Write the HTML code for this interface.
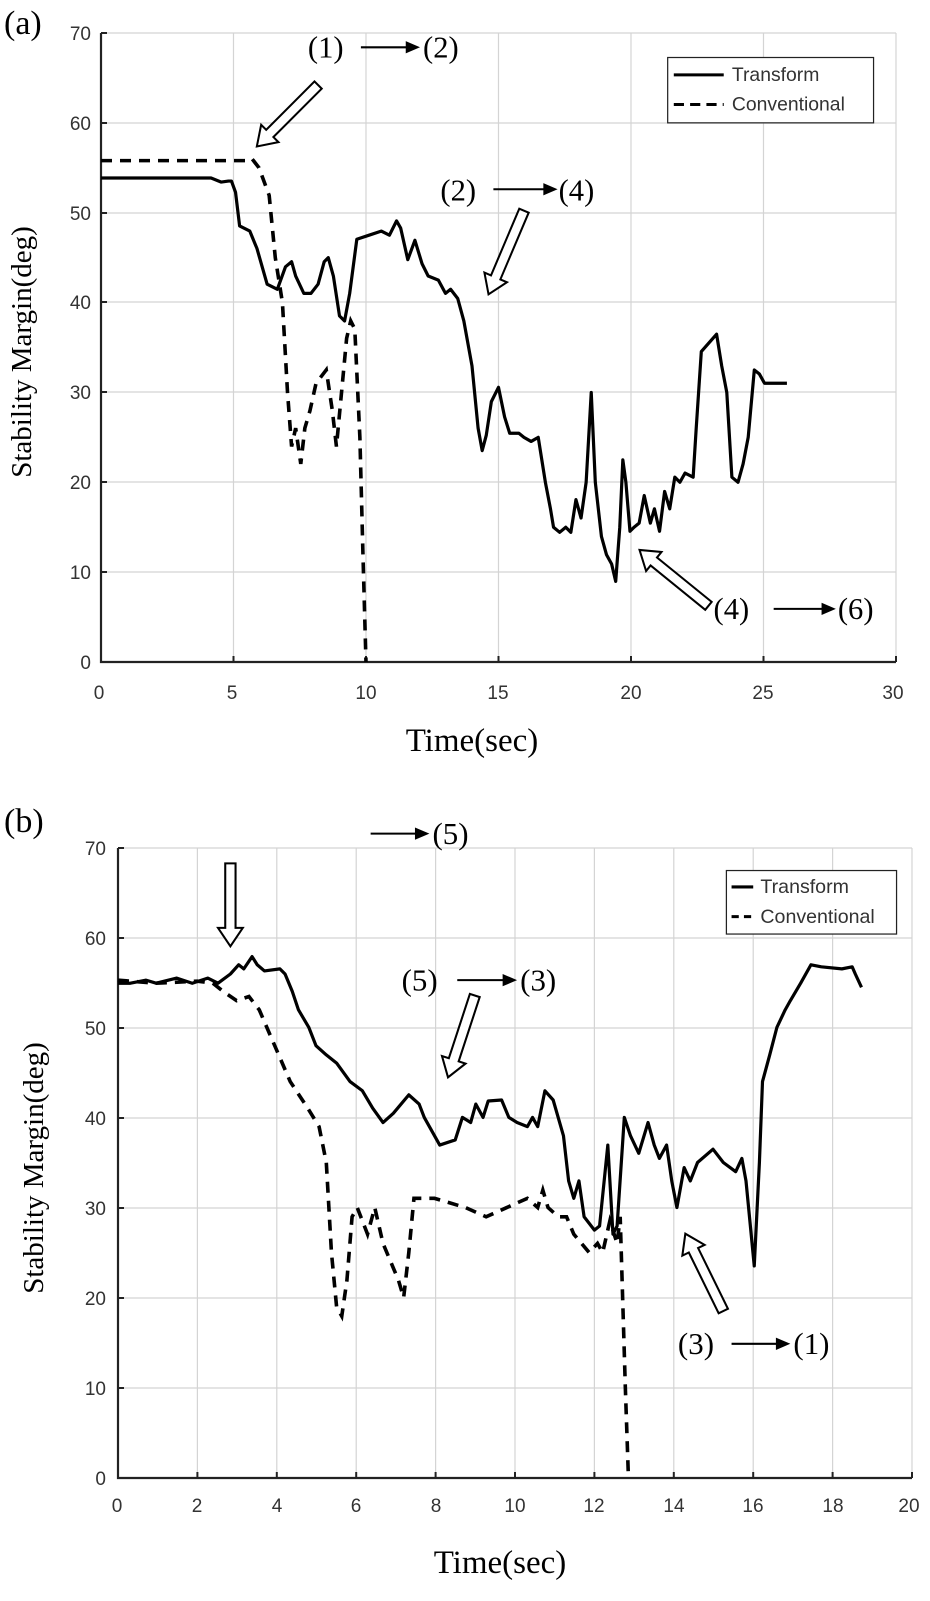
<!DOCTYPE html>
<html><head><meta charset="utf-8"><style>
html,body{margin:0;padding:0;background:#fff}
svg{display:block}
.tk{font-family:"Liberation Sans",sans-serif;font-size:19px;fill:#333}
.sr{font-family:"Liberation Serif",serif;fill:#000}
.g{stroke:#d4d4d4;stroke-width:1.2}
.s{fill:none;stroke:#000;stroke-width:3.2;stroke-linejoin:round;vector-effect:non-scaling-stroke}
.d{fill:none;stroke:#000;stroke-width:3.6;stroke-dasharray:11 8;vector-effect:non-scaling-stroke}
.ha{fill:#fff;stroke:#000;stroke-width:2}
</style></head><body>
<svg width="930" height="1601" viewBox="0 0 930 1601" xmlns="http://www.w3.org/2000/svg">
<!-- ===== (a) ===== -->
<text class="sr" x="4" y="34" font-size="34">(a)</text>
<g>
<line class="g" x1="101" y1="33" x2="896" y2="33"/>
<line class="g" x1="101" y1="123" x2="896" y2="123"/>
<line class="g" x1="101" y1="213" x2="896" y2="213"/>
<line class="g" x1="101" y1="302" x2="896" y2="302"/>
<line class="g" x1="101" y1="392" x2="896" y2="392"/>
<line class="g" x1="101" y1="482" x2="896" y2="482"/>
<line class="g" x1="101" y1="572" x2="896" y2="572"/>
<line class="g" x1="233.5" y1="33" x2="233.5" y2="662"/>
<line class="g" x1="366" y1="33" x2="366" y2="662"/>
<line class="g" x1="498.5" y1="33" x2="498.5" y2="662"/>
<line class="g" x1="631" y1="33" x2="631" y2="662"/>
<line class="g" x1="763.5" y1="33" x2="763.5" y2="662"/>
<line class="g" x1="896" y1="33" x2="896" y2="662"/>
<path d="M101,33V662H896" fill="none" stroke="#222" stroke-width="2.2"/>
<path d="M101,33h6M101,123h6M101,213h6M101,302h6M101,392h6M101,482h6M101,572h6M233.5,662v-6M366,662v-6M498.5,662v-6M631,662v-6M763.5,662v-6M896,662v-6" stroke="#222" stroke-width="2"/>
<g class="tk" text-anchor="end">
<text x="91" y="40">70</text><text x="91" y="130">60</text><text x="91" y="220">50</text><text x="91" y="309">40</text><text x="91" y="399">30</text><text x="91" y="489">20</text><text x="91" y="579">10</text><text x="91" y="669">0</text>
</g>
<g class="tk" text-anchor="middle">
<text x="99" y="699">0</text><text x="232" y="699">5</text><text x="366" y="699">10</text><text x="498" y="699">15</text><text x="631" y="699">20</text><text x="763" y="699">25</text><text x="893" y="699">30</text>
</g>
<text class="sr" x="472" y="751" font-size="33" text-anchor="middle">Time(sec)</text>
<text class="sr" font-size="29" text-anchor="middle" transform="translate(31,352) rotate(-90)">Stability  Margin(deg)</text>
<g transform="matrix(1.0192 0 0 1.0211 2.14 -1.72)">
<polyline class="s" points="97,176 205,176 215,180 222,179 225,179 229,190 233,223 243,228 250,245 260,280 270,285 278,263 284,258 288,272 296,289 303,289 310,280 316,258 320,254 325,272 331,311 336,316 341,289 348,236 360,232 372,228 380,232 387,218 391,225 398,256 405,237 412,260 418,272 428,276 435,289 440,285 447,294 453,316 461,360 467,421 471,443 475,428 480,395 487,381 493,410 498,426 507,426 512,430 519,434 526,430 533,474 538,500 541,518 547,523 553,518 558,523 563,491 568,509 573,474 578,386 582,474 588,527 593,545 598,554 602,571 606,518 609,452 612,474 616,522 620,518 625,514 630,487 636,514 640,500 645,522 650,483 655,500 660,469 665,474 670,465 678,469 681,421 686,346 693,338 701,329 706,360 711,386 716,469 722,474 727,456 732,430 738,364 743,368 748,377 770,377"/>
<polyline class="d" points="97,159 240,159 245,157 252,166 262,193 268,254 275,298 280,386 284,439 288,421 293,456 297,421 302,404 308,377 318,364 324,404 328,439 333,386 338,333 342,316 346,324 351,430 354,544 357,650"/>
<rect x="653" y="58" width="202" height="64" fill="#fff" stroke="#222" stroke-width="1.2"/>
<line x1="659" y1="75" x2="708" y2="75" stroke="#000" stroke-width="3"/>
<line x1="659" y1="104" x2="708" y2="104" stroke="#000" stroke-width="3" stroke-dasharray="10 6"/>
<text x="716" y="81" class="tk" font-size="17" fill="#000">Transform</text>
<text x="716" y="110" class="tk" font-size="17" fill="#000">Conventional</text>
<g class="sr" font-size="30">
<text x="300" y="58">(1)</text><text x="413" y="58">(2)</text>
<text x="430" y="198">(2)</text><text x="546" y="198">(4)</text>
<text x="698" y="608">(4)</text><text x="820" y="608">(6)</text>
</g>
<path d="M352,48H398" stroke="#000" stroke-width="2"/><path d="M396,42L410,48L396,54Z"/>
<path d="M482,187H533" stroke="#000" stroke-width="2"/><path d="M531,181L545,187L531,193Z"/>
<path d="M757,598H806" stroke="#000" stroke-width="2"/><path d="M804,592L818,598L804,604Z"/>
<polygon class="ha" transform="translate(310,85) rotate(135)" points="0,-5 67,-5 67,-12 85,0 67,12 67,5 0,5"/>
<polygon class="ha" transform="translate(512,208) rotate(113)" points="0,-5 71,-5 71,-12 89,0 71,12 71,5 0,5"/>
<polygon class="ha" transform="translate(693,595) rotate(-141)" points="0,-5 69,-5 69,-12 87,0 69,12 69,5 0,5"/>
</g>
</g>
<!-- ===== (b) ===== -->
<text class="sr" x="4" y="832" font-size="34">(b)</text>
<g>
<line class="g" x1="118" y1="848" x2="912" y2="848"/>
<line class="g" x1="118" y1="938" x2="912" y2="938"/>
<line class="g" x1="118" y1="1028" x2="912" y2="1028"/>
<line class="g" x1="118" y1="1118" x2="912" y2="1118"/>
<line class="g" x1="118" y1="1208" x2="912" y2="1208"/>
<line class="g" x1="118" y1="1298" x2="912" y2="1298"/>
<line class="g" x1="118" y1="1388" x2="912" y2="1388"/>
<line class="g" x1="197.4" y1="848" x2="197.4" y2="1478"/>
<line class="g" x1="276.8" y1="848" x2="276.8" y2="1478"/>
<line class="g" x1="356.2" y1="848" x2="356.2" y2="1478"/>
<line class="g" x1="435.6" y1="848" x2="435.6" y2="1478"/>
<line class="g" x1="515" y1="848" x2="515" y2="1478"/>
<line class="g" x1="594.4" y1="848" x2="594.4" y2="1478"/>
<line class="g" x1="673.8" y1="848" x2="673.8" y2="1478"/>
<line class="g" x1="753.2" y1="848" x2="753.2" y2="1478"/>
<line class="g" x1="832.6" y1="848" x2="832.6" y2="1478"/>
<line class="g" x1="912" y1="848" x2="912" y2="1478"/>
<path d="M118,848V1478H912" fill="none" stroke="#222" stroke-width="2.2"/>
<path d="M118,848h6M118,938h6M118,1028h6M118,1118h6M118,1208h6M118,1298h6M118,1388h6M197.4,1478v-6M276.8,1478v-6M356.2,1478v-6M435.6,1478v-6M515,1478v-6M594.4,1478v-6M673.8,1478v-6M753.2,1478v-6M832.6,1478v-6M912,1478v-6" stroke="#222" stroke-width="2"/>
<g class="tk" text-anchor="end">
<text x="106" y="855">70</text><text x="106" y="945">60</text><text x="106" y="1035">50</text><text x="106" y="1125">40</text><text x="106" y="1215">30</text><text x="106" y="1305">20</text><text x="106" y="1395">10</text><text x="106" y="1485">0</text>
</g>
<g class="tk" text-anchor="middle">
<text x="117" y="1512">0</text><text x="197" y="1512">2</text><text x="277" y="1512">4</text><text x="356" y="1512">6</text><text x="436" y="1512">8</text><text x="515" y="1512">10</text><text x="594" y="1512">12</text><text x="674" y="1512">14</text><text x="753" y="1512">16</text><text x="833" y="1512">18</text><text x="909" y="1512">20</text>
</g>
<text class="sr" x="500" y="1573" font-size="33" text-anchor="middle">Time(sec)</text>
<text class="sr" font-size="29" text-anchor="middle" transform="translate(43,1168) rotate(-90)">Stability  Margin(deg)</text>
<g transform="matrix(1.0312 0 0 1.0244 1.47 -3.28)">
<polyline class="s" points="113,963 125,963 140,960 150,963 170,958 185,963 200,958 210,963 222,954 230,945 235,949 243,937 248,945 255,951 270,949 275,954 282,971 288,989 298,1006 305,1024 315,1033 325,1041 338,1059 350,1068 360,1085 370,1099 380,1090 395,1072 405,1081 410,1094 425,1121 440,1116 447,1094 455,1099 460,1081 467,1094 472,1078 485,1077 492,1094 500,1099 510,1103 515,1094 520,1103 527,1068 535,1077 545,1112 550,1156 555,1173 560,1156 565,1191 575,1204 580,1200 588,1121 593,1208 597,1200 604,1094 610,1112 618,1129 627,1099 633,1121 638,1134 645,1121 650,1156 655,1182 662,1143 668,1156 675,1138 690,1125 700,1138 712,1147 718,1134 722,1156 730,1239 735,1138 738,1059 745,1033 752,1006 760,989 765,980 775,963 785,945 795,947 815,949 825,947 828,954 834,967"/>
<polyline class="d" points="113,960 150,963 190,961 205,963 215,971 228,980 240,976 250,989 265,1024 280,1059 297,1085 308,1103 315,1138 320,1226 325,1279 330,1288 335,1253 340,1191 345,1182 355,1208 362,1182 370,1217 385,1253 390,1270 395,1226 400,1173 420,1173 450,1182 470,1191 490,1182 510,1173 520,1182 525,1165 530,1182 540,1191 548,1191 555,1208 570,1226 578,1217 583,1226 590,1195 597,1217 600,1191 605,1358 608,1446"/>
<rect x="703" y="853" width="165" height="62" fill="#fff" stroke="#222" stroke-width="1.2"/>
<line x1="708" y1="869" x2="729" y2="869" stroke="#000" stroke-width="3"/>
<line x1="708" y1="898" x2="729" y2="898" stroke="#000" stroke-width="3" stroke-dasharray="7 5"/>
<text x="736" y="875" class="tk" font-size="17" fill="#000">Transform</text>
<text x="736" y="904" class="tk" font-size="17" fill="#000">Conventional</text>
<g class="sr" font-size="30">
<text x="418" y="827">(5)</text>
<text x="388" y="970">(5)</text><text x="503" y="970">(3)</text>
<text x="656" y="1325">(3)</text><text x="768" y="1325">(1)</text>
</g>
<path d="M358,817H403" stroke="#000" stroke-width="2"/><path d="M401,811L415,817L401,823Z"/>
<path d="M442,960H488" stroke="#000" stroke-width="2"/><path d="M486,954L500,960L486,966Z"/>
<path d="M708,1315H753" stroke="#000" stroke-width="2"/><path d="M751,1309L765,1315L751,1321Z"/>
<polygon class="ha" transform="translate(222,846) rotate(90)" points="0,-5 63,-5 63,-12 81,0 63,12 63,5 0,5"/>
<polygon class="ha" transform="translate(459,975) rotate(108)" points="0,-5 66,-5 66,-12 84,0 66,12 66,5 0,5"/>
<polygon class="ha" transform="translate(700,1283) rotate(-116)" points="0,-5 66,-5 66,-12 84,0 66,12 66,5 0,5"/>
</g>
</g>
</svg>
</body></html>
